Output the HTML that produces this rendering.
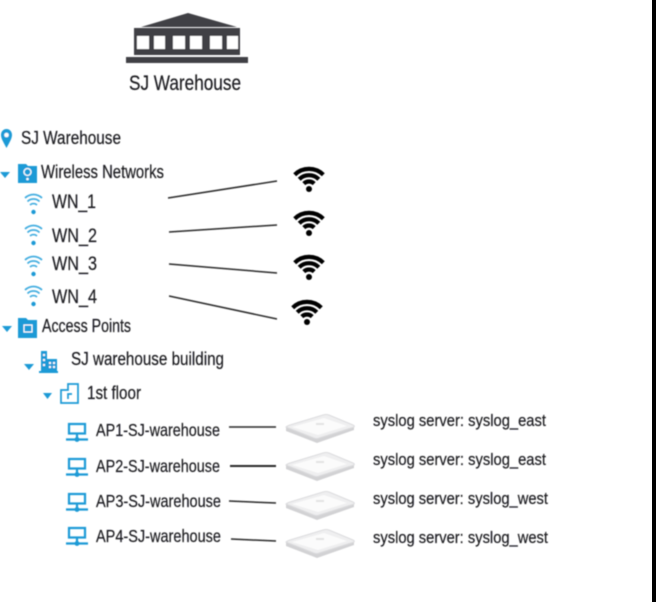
<!DOCTYPE html>
<html><head><meta charset="utf-8"><title>SJ Warehouse</title>
<style>
html,body{margin:0;padding:0;background:#fff;width:656px;height:602px;overflow:hidden}
svg{display:block}
text{font-family:"Liberation Sans",sans-serif;fill:#1c1c20;stroke:#1c1c20;stroke-width:.2}
</style></head><body>
<svg width="656" height="602" viewBox="0 0 656 602" xmlns="http://www.w3.org/2000/svg">
<defs>
<filter id="b" x="-2%" y="-2%" width="104%" height="104%"><feGaussianBlur stdDeviation="0.55"/></filter>
<g id="wk" fill="none" stroke="#000" stroke-width="4.200">
<path d="M-14.300 -9.300A20.500 20.500 0 0 1 14.300 -9.300"/>
<path d="M-9.800 -4.800A14 14 0 0 1 9.800 -4.800"/>
<path d="M-5.200 -.4A7.500 7.500 0 0 1 5.200 -.4"/>
<circle cx="0" cy="5" r="3" fill="#000" stroke="none"/>
</g>
<g id="wb" fill="none" stroke="#45aee0" stroke-width="1.700">
<path d="M-8.500 -7A12 12 0 0 1 8.500 -7"/>
<path d="M-6 -3.500A8.500 8.500 0 0 1 6 -3.500"/>
<path d="M-3.500 0A5 5 0 0 1 3.500 0"/>
<circle cx="0" cy="7" r="2.200" fill="#1e9ad6" stroke="none"/>
</g>
<g id="ap" fill="none" stroke="#1e9ad6" stroke-width="2.200">
<rect x="2" y="1" width="16" height="9.500"/>
<path d="M10 10.500V16M-1 16.500H21"/>
<circle cx="10" cy="16.500" r="2.400" fill="#1e9ad6" stroke="none"/>
</g>
<g id="dev">
<path d="M-34 1L-3 12 34 1V4L-3 17-34 5Z" fill="#d2d2d4"/>
<path d="M-34 1Q-33 0-30 -1L3 -11Q6 -12 9 -11L33 -1Q35 0 34 1L-1 12Q-3 13-6 12Z" fill="#efeff0" stroke="#dcdcde" stroke-width="1"/>
<path d="M-28 1L4 -8 27 0-2 9Z" fill="#fbfbfb"/>
<rect x="-4" y="-3" width="8" height="2" fill="#e2e2e2"/>
</g>
</defs>
<g filter="url(#b)">
<path d="M188 13L237 27H141Z" fill="#3f3f44"/>
<rect x="134" y="28" width="106" height="27" fill="#3f3f44"/>
<g fill="#fff">
<rect x="137" y="36" width="12" height="13"/><rect x="154" y="36" width="11" height="13"/>
<rect x="173" y="36" width="12" height="13"/><rect x="190" y="36" width="12" height="13"/>
<rect x="210" y="36" width="12" height="13"/><rect x="227" y="36" width="11" height="13"/>
</g>
<rect x="126" y="57" width="122" height="6" fill="#3f3f44"/>
<text x="129" y="90" font-size="21.500" textLength="112" lengthAdjust="spacingAndGlyphs">SJ Warehouse</text>

<path d="M6.500 129C3 129 1 132 1 135C1 139 4.500 144 6.500 148C8.500 144 12 139 12 135C12 132 10 129 6.500 129Z" fill="#1e9ad6"/>
<circle cx="6.500" cy="135" r="2.300" fill="#fff"/>
<text x="21" y="144" font-size="18.500" textLength="100" lengthAdjust="spacingAndGlyphs">SJ Warehouse</text>

<path d="M0 172H10L5 178Z" fill="#1e9ad6"/>
<path d="M18 164H26L28 166H37V183H18Z" fill="#1e9ad6"/>
<circle cx="27.500" cy="172" r="3.500" fill="none" stroke="#fff" stroke-width="1.300"/>
<circle cx="27.500" cy="179" r="1.300" fill="#fff"/>
<text x="41" y="178" font-size="18" textLength="123" lengthAdjust="spacingAndGlyphs">Wireless Networks</text>

<use href="#wb" x="33.500" y="205"/><use href="#wb" x="33.500" y="236"/>
<use href="#wb" x="33.500" y="267"/><use href="#wb" x="33.500" y="297"/>
<text x="52" y="208" font-size="19" textLength="44" lengthAdjust="spacingAndGlyphs">WN_1</text>
<text x="52" y="242" font-size="19" textLength="45" lengthAdjust="spacingAndGlyphs">WN_2</text>
<text x="52" y="270" font-size="19" textLength="45" lengthAdjust="spacingAndGlyphs">WN_3</text>
<text x="52" y="303" font-size="19" textLength="45" lengthAdjust="spacingAndGlyphs">WN_4</text>

<g stroke="#2c2c2c" stroke-width="1.500" fill="none">
<path d="M168 198L277 181"/><path d="M169 232L277 225"/>
<path d="M169 264L277 273"/><path d="M169 296L277 319"/>
<path d="M229 427H276"/><path d="M230 466H276" stroke-width="2"/>
<path d="M229 501L276 503"/><path d="M231 539L276 541"/>
</g>

<use href="#wk" x="309" y="184"/><use href="#wk" x="309" y="228"/>
<use href="#wk" x="309" y="272"/><use href="#wk" x="307" y="317"/>

<path d="M2 326H12L7 332Z" fill="#1e9ad6"/>
<path d="M18 318H26L28 320H37V338H18Z" fill="#1e9ad6"/>
<rect x="24" y="325" width="8" height="7" fill="none" stroke="#fff" stroke-width="1.200"/>
<text x="42" y="332" font-size="18" textLength="89" lengthAdjust="spacingAndGlyphs">Access Points</text>

<path d="M24 364H34L29 370Z" fill="#1e9ad6"/>
<g fill="#1e9ad6">
<rect x="41" y="351" width="6" height="20"/><rect x="47" y="359" width="10" height="12"/>
<rect x="39" y="371" width="19" height="2"/>
</g>
<g fill="#fff"><rect x="43" y="354" width="2" height="2"/><rect x="43" y="359" width="2" height="2"/><rect x="43" y="364" width="2" height="2"/><rect x="49" y="362" width="2" height="2"/><rect x="53" y="362" width="2" height="2"/><rect x="49" y="366" width="2" height="2"/><rect x="53" y="366" width="2" height="2"/></g>
<text x="71" y="365" font-size="18" textLength="153" lengthAdjust="spacingAndGlyphs">SJ warehouse building</text>

<path d="M43 393H52L47.500 399Z" fill="#1e9ad6"/>
<path d="M61 390H68V384H78V403H61Z M68 399V394H72" fill="none" stroke="#1e9ad6" stroke-width="1.700"/>
<text x="87" y="399" font-size="18" textLength="54" lengthAdjust="spacingAndGlyphs">1st floor</text>

<use href="#ap" x="67" y="423"/><use href="#ap" x="67" y="458"/>
<use href="#ap" x="67" y="493"/><use href="#ap" x="67" y="527"/>
<text x="96" y="436" font-size="17.500" textLength="124" lengthAdjust="spacingAndGlyphs">AP1-SJ-warehouse</text>
<text x="96" y="472" font-size="17.500" textLength="124" lengthAdjust="spacingAndGlyphs">AP2-SJ-warehouse</text>
<text x="96" y="507" font-size="17.500" textLength="125" lengthAdjust="spacingAndGlyphs">AP3-SJ-warehouse</text>
<text x="96" y="542" font-size="17.500" textLength="125" lengthAdjust="spacingAndGlyphs">AP4-SJ-warehouse</text>

<use href="#dev" x="320" y="426"/><use href="#dev" x="320" y="464"/>
<use href="#dev" x="320" y="503"/><use href="#dev" x="320" y="541"/>

<text x="373" y="426" font-size="17" textLength="173" lengthAdjust="spacingAndGlyphs">syslog server: syslog_east</text>
<text x="373" y="465" font-size="17" textLength="173" lengthAdjust="spacingAndGlyphs">syslog server: syslog_east</text>
<text x="373" y="504" font-size="17" textLength="175" lengthAdjust="spacingAndGlyphs">syslog server: syslog_west</text>
<text x="373" y="543" font-size="17" textLength="175" lengthAdjust="spacingAndGlyphs">syslog server: syslog_west</text>
</g>
<rect x="652" y="0" width="4" height="602" fill="#000"/>
</svg>
</body></html>
